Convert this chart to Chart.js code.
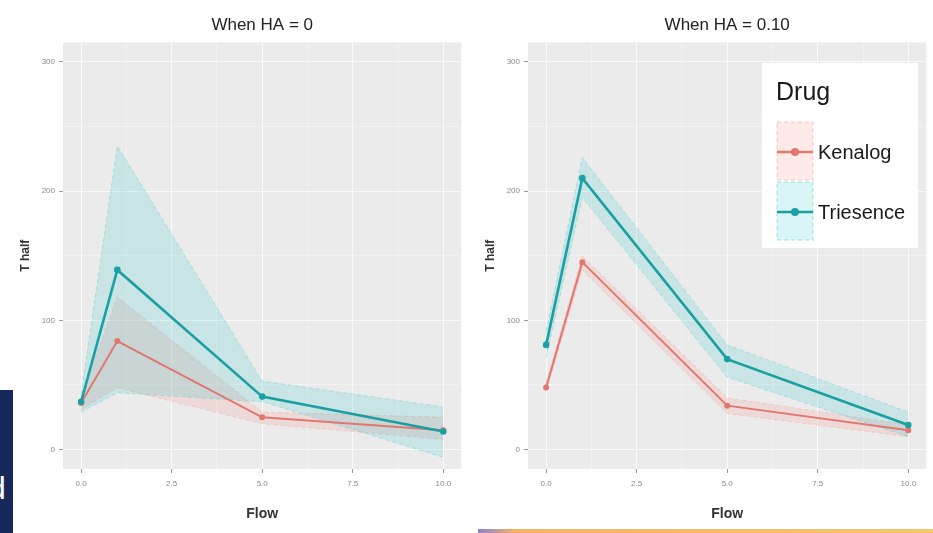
<!DOCTYPE html>
<html>
<head>
<meta charset="utf-8">
<script src="https://cdn.jsdelivr.net/npm/chart.js@4.4.0/dist/chart.umd.min.js"></script>
<style>
    body { margin: 0; width: 933px; height: 533px; background: #fff; position: relative; overflow: hidden; font-family: "Liberation Sans", Arial, sans-serif; }
    .panel { position: absolute; top: 0; width: 468px; height: 533px; }
    #p1 { left: 0; }
    #p2 { left: 465px; }
    #slide { position: absolute; left: 0; top: 390px; width: 13px; height: 143px; background: #17295c; overflow: hidden; }
    #slide span { position: absolute; left: -12px; top: 80px; color: #fff; font-size: 32px; }
    #bar { position: absolute; left: 478px; top: 529px; width: 455px; height: 4px; background: linear-gradient(to right, #8d7fd0, #f5b36a 8%, #f7c66e); }
</style>
</head>
<body>
<div class="panel" id="p1"><canvas id="chart1" width="468" height="533"></canvas></div>
<div class="panel" id="p2"><canvas id="chart2" width="468" height="533"></canvas></div>
<div id="slide"><span>d</span></div>
<div id="bar"></div>
<script>
var flow = [0, 1, 5, 10];
var drugs = ["Kenalog", "Triesence"];

// HA = 0
var kenalog0 = [36, 84, 25, 15];
var kenalog0Lo = [31, 48, 20, 8];
var kenalog0Hi = [40, 118, 29, 25];
var triesence0 = [37, 139, 41, 14];
var triesence0Lo = [29, 44, 37, -6];
var triesence0Hi = [43, 235, 53, 33];

// HA = 0.10
var kenalog1 = [48, 145, 34, 15];
var kenalog1Lo = [45, 139, 28, 10];
var kenalog1Hi = [52, 150, 40, 19];
var triesence1 = [81, 210, 70, 19];
var triesence1Lo = [71, 195, 56, 10];
var triesence1Hi = [92, 226, 81, 29];

var yTicks = [0, 100, 200, 300];
var xTicks = [0, 2.5, 5, 7.5, 10];

var lineColors = ["#e27770", "#1a9fa2"];
var bandColors = ["rgba(248, 118, 109, 0.15)", "rgba(0, 191, 196, 0.15)"];
var edgeColors = ["rgba(248, 118, 109, 0.25)", "rgba(0, 191, 196, 0.25)"];

function pts(arr) {
    return flow.map(function (f, i) { return { x: f, y: arr[i] }; });
}

// grey ggplot panel
var panelBg = {
    id: "panelBg",
    beforeDraw: function (chart) {
        var a = chart.chartArea;
        chart.ctx.save();
        chart.ctx.fillStyle = "#ebebeb";
        chart.ctx.fillRect(a.left, a.top, a.right - a.left, a.bottom - a.top);
        chart.ctx.restore();
    },
};

// ggplot style legend drawn on the right panel
var drugLegend = {
    id: "drugLegend",
    afterDraw: function (chart) {
        var ctx = chart.ctx;
        ctx.save();
        ctx.fillStyle = "#fff";
        ctx.fillRect(297, 63, 156, 185);
        ctx.fillStyle = "#1a1a1a";
        ctx.font = "25px 'Liberation Sans', Arial, sans-serif";
        ctx.textBaseline = "middle";
        ctx.fillText("Drug", 311, 93);
        for (var i = 0; i < drugs.length; i++) {
            var top = 122 + i * 60;
            ctx.fillStyle = bandColors[i];
            ctx.fillRect(312, top, 36, 58);
            ctx.strokeStyle = edgeColors[i];
            ctx.setLineDash([4, 3]);
            ctx.lineWidth = 1.5;
            ctx.strokeRect(312, top, 36, 58);
            ctx.setLineDash([]);
            ctx.strokeStyle = lineColors[i];
            ctx.lineWidth = 2.5;
            ctx.beginPath();
            ctx.moveTo(312, top + 30);
            ctx.lineTo(348, top + 30);
            ctx.stroke();
            ctx.fillStyle = lineColors[i];
            ctx.beginPath();
            ctx.arc(330, top + 30, 4, 0, Math.PI * 2);
            ctx.fill();
            ctx.fillStyle = "#1a1a1a";
            ctx.font = "20px 'Liberation Sans', Arial, sans-serif";
            ctx.fillText(drugs[i], 353, top + 31);
        }
        ctx.restore();
    },
};

function makeChart(id, title, series, plugins) {
    var ctx = document.getElementById(id).getContext("2d");
    var datasets = [];
    // lines first (on top), then ribbons
    for (var i = series.length - 1; i >= 0; i--) {
        datasets.push({
            label: drugs[i],
            data: pts(series[i].mid),
            borderColor: lineColors[i],
            backgroundColor: lineColors[i],
            borderWidth: i == 1 ? 2.6 : 2,
            pointRadius: 2,
            fill: false,
            order: 1 - i,
        });
    }
    for (var j = series.length - 1; j >= 0; j--) {
        datasets.push({
            label: drugs[j] + " hi",
            data: pts(series[j].hi),
            borderColor: edgeColors[j],
            borderWidth: 1,
            borderDash: [4, 3],
            backgroundColor: bandColors[j],
            pointRadius: 0,
            fill: "+1",
            order: 2 + (1 - j),
        });
        datasets.push({
            label: drugs[j] + " lo",
            data: pts(series[j].lo),
            borderColor: edgeColors[j],
            borderWidth: 1,
            borderDash: [4, 3],
            pointRadius: 0,
            fill: false,
            order: 2 + (1 - j),
        });
    }

    return new Chart(ctx, {
        type: "line",
        data: { datasets: datasets },
        options: {
            responsive: false,
            animation: false,
            layout: { padding: { left: 0, right: 5, top: 0, bottom: 0 } },
            plugins: {
                legend: { display: false },
                tooltip: { enabled: false },
                title: {
                    display: true,
                    text: title,
                    fullSize: false,
                    color: "#222",
                    font: { size: 17, weight: "normal", family: "'Liberation Sans', Arial, sans-serif" },
                    padding: { top: 15, bottom: 7 },
                },
            },
            scales: {
                x: {
                    type: "linear",
                    min: -0.5,
                    max: 10.5,
                    afterBuildTicks: function (scale) {
                        scale.ticks = [0, 1.25, 2.5, 3.75, 5, 6.25, 7.5, 8.75, 10].map(function (v) { return { value: v }; });
                    },
                    afterFit: function (scale) { scale.height = 64; },
                    border: { display: false },
                    grid: {
                        color: "rgba(255,255,255,0.75)",
                        lineWidth: function (c) { return xTicks.indexOf(c.tick.value) >= 0 ? 1 : 0.5; },
                        tickColor: function (c) { return xTicks.indexOf(c.tick.value) >= 0 ? "#999" : "rgba(0,0,0,0)"; },
                        tickLength: 4,
                    },
                    ticks: {
                        autoSkip: false,
                        maxRotation: 0,
                        padding: 6,
                        color: "#8a8a8a",
                        font: { size: 8 },
                        callback: function (v) { return xTicks.indexOf(v) >= 0 ? v.toFixed(1) : ""; },
                    },
                    title: {
                        display: true,
                        text: "Flow",
                        color: "#333",
                        font: { size: 14, weight: "bold" },
                        padding: { top: 4, bottom: 10 },
                    },
                },
                y: {
                    min: -15,
                    max: 315,
                    afterBuildTicks: function (scale) {
                        scale.ticks = [0, 50, 100, 150, 200, 250, 300].map(function (v) { return { value: v }; });
                    },
                    afterFit: function (scale) { scale.width = 63; },
                    border: { display: false },
                    grid: {
                        color: "rgba(255,255,255,0.75)",
                        lineWidth: function (c) { return yTicks.indexOf(c.tick.value) >= 0 ? 1 : 0.5; },
                        tickColor: function (c) { return yTicks.indexOf(c.tick.value) >= 0 ? "#999" : "rgba(0,0,0,0)"; },
                        tickLength: 4,
                    },
                    ticks: {
                        autoSkip: false,
                        padding: 4,
                        color: "#8a8a8a",
                        font: { size: 8 },
                        callback: function (v) { return yTicks.indexOf(v) >= 0 ? String(v) : ""; },
                    },
                    title: {
                        display: true,
                        text: "T half",
                        color: "#333",
                        font: { size: 12, weight: "bold" },
                        padding: { top: 18, bottom: 0 },
                    },
                },
            },
        },
        plugins: plugins,
    });
}

makeChart("chart1", "When HA = 0", [
    { mid: kenalog0, lo: kenalog0Lo, hi: kenalog0Hi },
    { mid: triesence0, lo: triesence0Lo, hi: triesence0Hi },
], [panelBg]);

makeChart("chart2", "When HA = 0.10", [
    { mid: kenalog1, lo: kenalog1Lo, hi: kenalog1Hi },
    { mid: triesence1, lo: triesence1Lo, hi: triesence1Hi },
], [panelBg, drugLegend]);
</script>
</body>
</html>
